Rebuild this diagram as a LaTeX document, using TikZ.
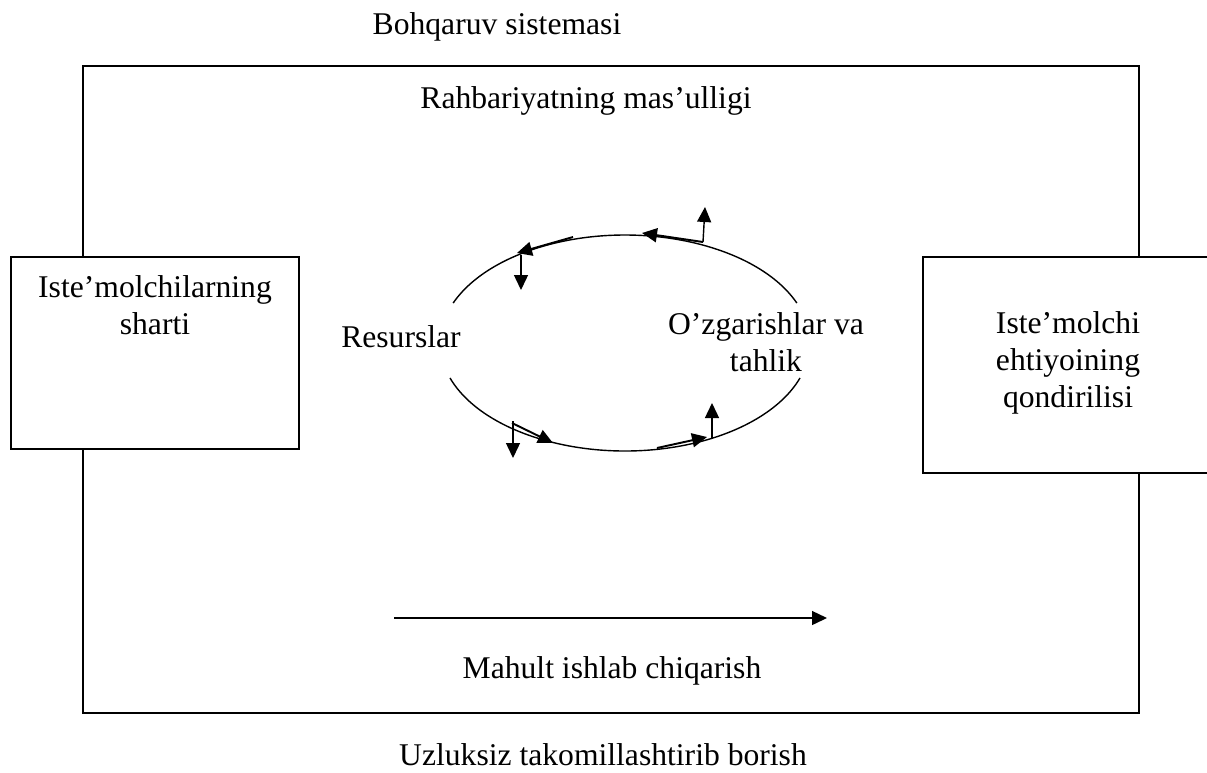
\documentclass[tikz,border=0pt]{standalone}
\usepackage{fontspec}
\setmainfont{Liberation Serif}
\usetikzlibrary{arrows.meta}
\begin{document}
\begin{tikzpicture}[x=0.02cm,y=-0.02cm,line width=0.8pt,
  lbl/.style={inner sep=0pt, align=center, font=\fontsize{18}{21}\selectfont},
  boxnode/.style={draw, fill=white, inner sep=0pt},
  tipped/.style={-{Triangle[length=0.3cm,width=0.28cm]}},
  curvearrow/.style={tipped, line width=1.1pt}]
\useasboundingbox (0,0) rectangle (1207,772);
\clip (0,0) rectangle (1207,772);
% frame
\node[draw, inner sep=0pt, minimum width=21.12cm, minimum height=12.94cm] (frame) at (611,389.5) {};
\node[boxnode, minimum width=5.76cm, minimum height=3.84cm] (lbox) at (155,353) {};
\node[boxnode, minimum width=5.8cm, minimum height=4.32cm] (rbox) at (1068,365) {};
% texts
\node[lbl, anchor=base] (title) at (497,34) {Bohqaruv sistemasi};
\node[lbl, anchor=base] (resp) at (586,108) {Rahbariyatning mas’ulligi};
\node[lbl] (ltext) at (155,305.5) {Iste’molchilarning\\sharti};
\node[lbl] (rtext) at (1068,362.5) {Iste’molchi\\ehtiyoining\\qondirilisi};
\node[lbl, anchor=base] (res) at (401,347) {Resurslar};
\node[lbl] (change) at (766,342) {O’zgarishlar va\\tahlik};
\node[lbl, anchor=base] (prod) at (612,678) {Mahult ishlab chiqarish};
\node[lbl, anchor=base] (impr) at (603,765) {Uzluksiz takomillashtirib borish};
% ellipse
\coordinate (ell) at (625,343);
\draw (ell) ++(21.7:3.7cm and 2.16cm) arc[start angle=21.7, end angle=158.3, x radius=3.7cm, y radius=2.16cm];
\draw (ell) ++(198.9:3.7cm and 2.16cm) arc[start angle=198.9, end angle=341.1, x radius=3.7cm, y radius=2.16cm];
% small arrows on ellipse
\coordinate (a1) at (703,242); \coordinate (a1h) at (642,233); \coordinate (a1u) at (705,207);
\draw[curvearrow] (a1) -- (a1h);
\draw[tipped] (a1) -- (a1u);
\coordinate (a2) at (573,237); \coordinate (a2h) at (517,253);
\coordinate (a2v) at (521,255); \coordinate (a2d) at (521,290);
\draw[curvearrow] (a2) -- (a2h);
\draw[tipped] (a2v) -- (a2d);
\coordinate (a3v) at (513,421); \coordinate (a3d) at (513,458);
\coordinate (a3) at (512,423); \coordinate (a3h) at (553,443);
\draw[tipped] (a3v) -- (a3d);
\draw[curvearrow] (a3) -- (a3h);
\coordinate (a4) at (657,448); \coordinate (a4h) at (707,437);
\coordinate (a4v) at (712,438); \coordinate (a4u) at (712,403);
\draw[curvearrow] (a4) -- (a4h);
\draw[tipped] (a4v) -- (a4u);
% production arrow
\coordinate (ps) at (394,618); \coordinate (pe) at (827,618);
\draw[tipped] (ps) -- (pe);
\end{tikzpicture}
\end{document}
